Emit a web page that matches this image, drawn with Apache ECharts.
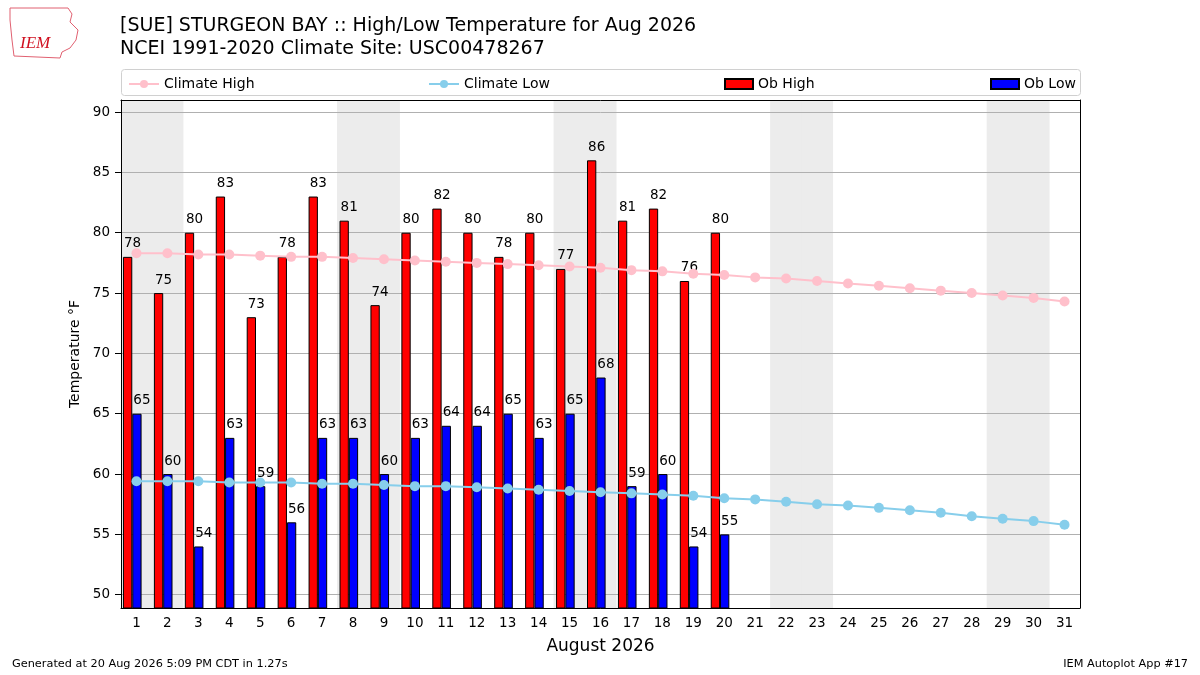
<!DOCTYPE html>
<html><head><meta charset="utf-8">
<script src="https://cdn.jsdelivr.net/npm/echarts@6/dist/echarts.min.js"></script>
<style>html,body{margin:0;padding:0;background:#fff}#c{width:1200px;height:675px}</style>
</head><body><div id="c"></div>
<script>
const days = ['1','2','3','4','5','6','7','8','9','10','11','12','13','14','15','16','17','18','19','20','21','22','23','24','25','26','27','28','29','30','31'];
const obHigh = [78,75,80,83,73,78,83,81,74,80,82,80,78,80,77,86,81,82,76,80];
const obLow = [65,60,54,63,59,56,63,63,60,63,64,64,65,63,65,68,59,60,54,55];
const climateHigh = [78.3,78.3,78.2,78.2,78.1,78.0,78.0,77.9,77.8,77.7,77.6,77.5,77.4,77.3,77.2,77.1,76.9,76.8,76.6,76.5,76.3,76.2,76.0,75.8,75.6,75.4,75.2,75.0,74.8,74.6,74.3];
const climateLow = [59.4,59.4,59.4,59.3,59.3,59.3,59.2,59.2,59.1,59.0,59.0,58.9,58.8,58.7,58.6,58.5,58.4,58.3,58.2,58.0,57.9,57.7,57.5,57.4,57.2,57.0,56.8,56.5,56.3,56.1,55.8];
const weekendDays = ['1','2','8','9','15','16','22','23','29','30'];
const yTicks = [50,55,60,65,70,75,80,85,90];
const yMin = 48.9, yMax = 91;

const FONT = 'DejaVu Sans';
const shade = days.map(d => weekendDays.includes(d) ? yMax : '-');
const chart = echarts.init(document.getElementById('c'), null, {renderer: 'canvas'});
const lbl = {show: true, position: 'top', distance: 6, offset: [5, 0], color: '#000', fontSize: 13.5, fontFamily: FONT};

function legendItem(name, left, icon) {
  return {
    data: [name], left: left, top: 72, itemWidth: icon ? 28 : 30, itemHeight: 10,
    itemGap: 10, textStyle: {fontFamily: FONT, fontSize: 14, color: '#000'},
    selectedMode: false, icon: icon
  };
}

chart.setOption({
  animation: false,
  textStyle: {fontFamily: FONT},
  title: {
    text: '[SUE] STURGEON BAY :: High/Low Temperature for Aug 2026\nNCEI 1991-2020 Climate Site: USC00478267',
    left: 115, top: 10,
    textStyle: {fontFamily: FONT, fontSize: 19, fontWeight: 'normal', color: '#000', lineHeight: 23}
  },
  legend: [
    legendItem('Climate High', 123),
    legendItem('Climate Low', 423),
    legendItem('Ob High', 719, 'rect'),
    legendItem('Ob Low', 985, 'rect')
  ],
  graphic: [
    {type: 'rect', left: 121, top: 69, shape: {width: 959, height: 26, r: 3}, style: {fill: '#fff', stroke: '#d0d0d0', lineWidth: 1}, z: -1},
    {type: 'polyline', shape: {points: [[10,8],[68,8],[72,14],[70,22],[78,30],[76,40],[70,48],[62,52],[60,58],[14,56],[12,40],[10,20],[10,8]]}, style: {stroke: '#e06070', fill: 'none', lineWidth: 1}},
    {type: 'text', left: 20, top: 35, style: {text: 'IEM', fill: '#d01020', font: 'italic 17px "Liberation Serif"'}},
    {type: 'text', left: 12, top: 659, style: {text: 'Generated at 20 Aug 2026 5:09 PM CDT in 1.27s', fill: '#000', font: '11.3px "DejaVu Sans"'}},
    {type: 'text', right: 12, top: 659, style: {text: 'IEM Autoplot App #17', fill: '#000', font: '11.3px "DejaVu Sans"', align: 'right'}}
  ],
  grid: {left: 121, right: 120, top: 100, bottom: 67, show: false, containLabel: false},
  xAxis: [
    {
      type: 'category', data: days, boundaryGap: true, z: 10,
      name: 'August 2026', nameLocation: 'middle', nameGap: 30,
      nameTextStyle: {fontFamily: FONT, fontSize: 17, color: '#000'},
      axisLine: {lineStyle: {color: '#000', width: 1}},
      axisTick: {alignWithLabel: true, length: 5, lineStyle: {color: '#000'}},
      axisLabel: {color: '#000', fontSize: 13.5, fontFamily: FONT, margin: 8, interval: 0},
      splitLine: {show: false}
    },
    {
      type: 'category', data: days, boundaryGap: true, position: 'top', z: 10,
      axisLine: {show: true, lineStyle: {color: '#000', width: 1}},
      axisTick: {show: false}, axisLabel: {show: false}, splitLine: {show: false}
    }
  ],
  yAxis: [
    {
      type: 'value', min: yMin, max: yMax, z: 10,
      name: 'Temperature °F', nameLocation: 'middle', nameGap: 36,
      nameTextStyle: {fontFamily: FONT, fontSize: 14, color: '#000'},
      axisLine: {show: true, lineStyle: {color: '#000'}},
      axisTick: {show: true, length: 6, lineStyle: {color: '#000'}, customValues: yTicks},
      axisLabel: {color: '#000', fontSize: 13.5, fontFamily: FONT, margin: 11, customValues: yTicks},
      splitLine: {show: false}
    },
    {
      type: 'value', min: yMin, max: yMax, position: 'right', z: 10,
      axisLine: {show: true, lineStyle: {color: '#000'}},
      axisTick: {show: false}, axisLabel: {show: false}, splitLine: {show: false}
    }
  ],
  series: [
    {
      name: 'shade', type: 'bar', xAxisIndex: 1, data: shade, barWidth: 32, silent: true,
      itemStyle: {color: '#ececec'}, z: 0,
      markLine: {
        silent: true, symbol: 'none', z: 1, label: {show: false},
        lineStyle: {color: '#b0b0b0', type: 'solid', width: 1},
        data: yTicks.map(v => ({yAxis: v}))
      }
    },
    {
      name: 'Ob High', type: 'bar', data: obHigh, barWidth: 9.3, barGap: '0%', z: 2,
      itemStyle: {color: '#ff0000', borderColor: '#000', borderWidth: 1}, label: lbl
    },
    {
      name: 'Ob Low', type: 'bar', data: obLow, barWidth: 9.3, barGap: '0%', z: 2,
      itemStyle: {color: '#0000ff', borderColor: '#000', borderWidth: 1}, label: lbl
    },
    {
      name: 'pad', type: 'bar', data: days.map(() => '-'), barWidth: 8.4, barGap: '0%', silent: true
    },
    {
      name: 'Climate High', type: 'line', data: climateHigh, z: 3,
      symbol: 'circle', symbolSize: 10, showSymbol: true,
      itemStyle: {color: '#ffc0cb'}, lineStyle: {color: '#ffc0cb', width: 2}
    },
    {
      name: 'Climate Low', type: 'line', data: climateLow, z: 3,
      symbol: 'circle', symbolSize: 10, showSymbol: true,
      itemStyle: {color: '#87ceeb'}, lineStyle: {color: '#87ceeb', width: 2}
    }
  ]
});
</script></body></html>
